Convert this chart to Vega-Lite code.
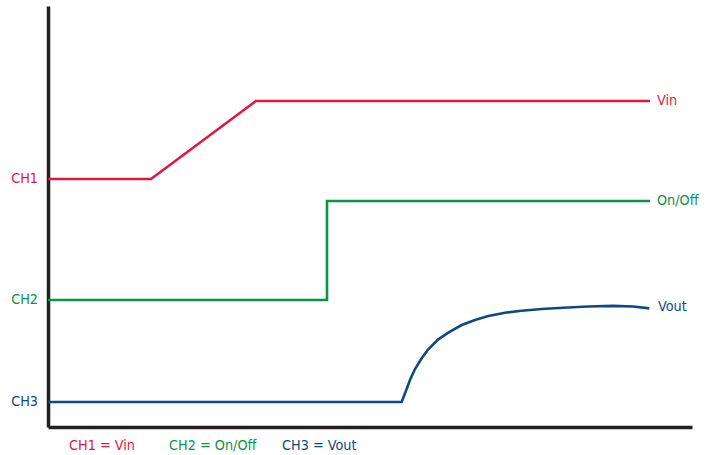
{
  "$schema": "https://vega.github.io/schema/vega-lite/v6.json",
  "width": 644,
  "height": 421,
  "autosize": "none",
  "padding": {"left": 48, "top": 6, "right": 18, "bottom": 28},
  "background": "white",
  "config": {"view": {"stroke": null}, "text": {"font": "Liberation Sans Narrow, DejaVu Sans Condensed, sans-serif", "fontSize": 14.3}},
  "datasets": {
    "lines": [
      {"series": "Vin", "i": 1, "x": 0, "y": 248},
      {"series": "Vin", "i": 2, "x": 103, "y": 248},
      {"series": "Vin", "i": 3, "x": 208, "y": 326},
      {"series": "Vin", "i": 4, "x": 602, "y": 326},
      {"series": "On/Off", "i": 1, "x": 0, "y": 127},
      {"series": "On/Off", "i": 2, "x": 279, "y": 127},
      {"series": "On/Off", "i": 3, "x": 279, "y": 226},
      {"series": "On/Off", "i": 4, "x": 602, "y": 226},
      {"series": "Vout", "i": 1, "x": 0, "y": 25},
      {"series": "Vout", "i": 2, "x": 353.7, "y": 25},
      {"series": "Vout", "i": 3, "x": 357, "y": 33.7},
      {"series": "Vout", "i": 4, "x": 362, "y": 47},
      {"series": "Vout", "i": 5, "x": 367, "y": 58},
      {"series": "Vout", "i": 6, "x": 373.7, "y": 68.7},
      {"series": "Vout", "i": 7, "x": 380.3, "y": 77.7},
      {"series": "Vout", "i": 8, "x": 390.3, "y": 87.7},
      {"series": "Vout", "i": 9, "x": 400.3, "y": 94.3},
      {"series": "Vout", "i": 10, "x": 413.7, "y": 102},
      {"series": "Vout", "i": 11, "x": 427, "y": 107},
      {"series": "Vout", "i": 12, "x": 440.3, "y": 111},
      {"series": "Vout", "i": 13, "x": 457, "y": 114.3},
      {"series": "Vout", "i": 14, "x": 473.7, "y": 116.3},
      {"series": "Vout", "i": 15, "x": 493.7, "y": 118},
      {"series": "Vout", "i": 16, "x": 515.3, "y": 119.3},
      {"series": "Vout", "i": 17, "x": 540, "y": 120.5},
      {"series": "Vout", "i": 18, "x": 565, "y": 121.1},
      {"series": "Vout", "i": 19, "x": 585, "y": 120.5},
      {"series": "Vout", "i": 20, "x": 601.3, "y": 118.6}
    ],
    "rightLabels": [
      {"series": "Vin", "text": "Vin", "x": 609, "y": 326},
      {"series": "On/Off", "text": "On/Off", "x": 609, "y": 226},
      {"series": "Vout", "text": "Vout", "x": 610, "y": 120}
    ],
    "leftLabels": [
      {"series": "Vin", "text": "CH1", "x": -10, "y": 248},
      {"series": "On/Off", "text": "CH2", "x": -10, "y": 127},
      {"series": "Vout", "text": "CH3", "x": -10, "y": 25}
    ],
    "legend": [
      {"series": "Vin", "text": "CH1 = Vin", "x": 21, "y": -19},
      {"series": "On/Off", "text": "CH2 = On/Off", "x": 121, "y": -19},
      {"series": "Vout", "text": "CH3 = Vout", "x": 234, "y": -19}
    ]
  },
  "layer": [
    {
      "data": {"name": "lines"},
      "mark": {"type": "line", "strokeWidth": 2.6, "strokeJoin": "miter", "clip": false},
      "encoding": {
        "x": {"field": "x", "type": "quantitative", "scale": {"domain": [0, 644], "nice": false, "zero": false},
          "axis": {"title": null, "labels": false, "ticks": false, "grid": false, "domainColor": "#231f20", "domainWidth": 3.5}},
        "y": {"field": "y", "type": "quantitative", "scale": {"domain": [0, 421], "nice": false, "zero": false},
          "axis": {"title": null, "labels": false, "ticks": false, "grid": false, "domainColor": "#231f20", "domainWidth": 3.5}},
        "order": {"field": "i", "type": "quantitative"},
        "detail": {"field": "series"},
        "color": {"field": "series", "type": "nominal", "legend": null,
          "scale": {"domain": ["Vin", "On/Off", "Vout"], "range": ["#e3173e", "#0b9444", "#0d4a80"]}}
      }
    },
    {
      "data": {"name": "rightLabels"},
      "mark": {"type": "text", "align": "left", "baseline": "middle"},
      "encoding": {
        "x": {"field": "x", "type": "quantitative"},
        "y": {"field": "y", "type": "quantitative"},
        "text": {"field": "text"},
        "color": {"field": "series", "type": "nominal", "legend": null}
      }
    },
    {
      "data": {"name": "leftLabels"},
      "mark": {"type": "text", "align": "right", "baseline": "middle"},
      "encoding": {
        "x": {"field": "x", "type": "quantitative"},
        "y": {"field": "y", "type": "quantitative"},
        "text": {"field": "text"},
        "color": {"field": "series", "type": "nominal", "legend": null}
      }
    },
    {
      "data": {"name": "legend"},
      "mark": {"type": "text", "align": "left", "baseline": "middle"},
      "encoding": {
        "x": {"field": "x", "type": "quantitative"},
        "y": {"field": "y", "type": "quantitative"},
        "text": {"field": "text"},
        "color": {"field": "series", "type": "nominal", "legend": null}
      }
    }
  ]
}
